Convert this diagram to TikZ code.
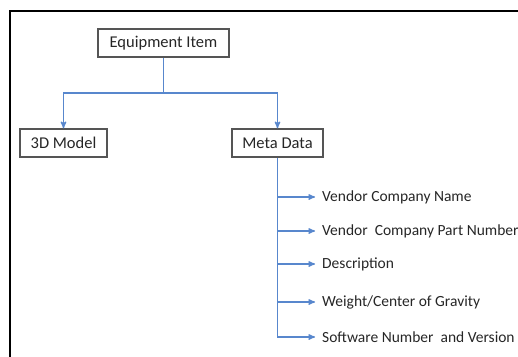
\documentclass[tikz,border=0pt]{standalone}
\usepackage{fontspec}
\setmainfont{Carlito}
\usetikzlibrary{arrows,positioning}
\definecolor{linkblue}{RGB}{88,135,205}
\definecolor{boxgray}{RGB}{85,85,85}
\tikzstyle{box}=[draw=boxgray,line width=1.5pt,minimum height=28pt,inner sep=0pt,font=\fontsize{16.5}{19}\selectfont,text=black!85]
\tikzstyle{field}=[anchor=west,inner xsep=7pt,inner ysep=0pt,font=\fontsize{15.5}{18}\selectfont,text=black!85]
\tikzstyle{link}=[draw=linkblue,line width=1.3pt,->,>=stealth']

\begin{document}
\begin{tikzpicture}[x=1pt,y=-1pt]
\useasboundingbox (0,0) rectangle (518,356);
\clip (0,0) rectangle (518,356);
\draw[line width=2pt] (9.5,357) -- (9.5,10.5) -- (519,10.5);
\node [box,minimum width=131pt] (item) at (163.5,43) {Equipment Item};
\node [box,minimum width=87pt] (model) at (63.5,143) {3D Model};
\node [box,minimum width=91pt] (meta) at (277.5,143) {Meta Data};
\coordinate (split) at (163.5,93);
\draw [link] (item.south) -- (split) -| (model.north);
\draw [link] (split) -| (meta.north);
% fields of the meta data
\node [field] (vname) at (315,197) {Vendor Company Name};
\node [field] (vpart) at (315,231) {Vendor\ \ Company Part Number};
\node [field] (descr) at (315,264) {Description};
\node [field] (weight) at (315,302) {Weight/Center of Gravity};
\node [field] (soft) at (315,337) {Software Number\ \ and Version};
\draw [link] (meta.south) |- (vname.west);
\draw [link] (meta.south) |- (vpart.west);
\draw [link] (meta.south) |- (descr.west);
\draw [link] (meta.south) |- (weight.west);
\draw [link] (meta.south) |- (soft.west);
\end{tikzpicture}
\end{document}
